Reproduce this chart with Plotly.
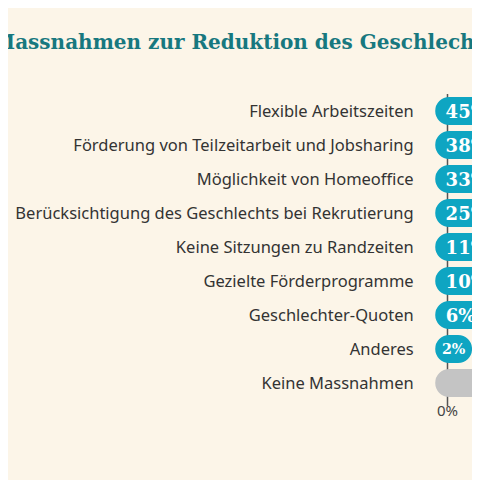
import plotly.graph_objects as go

categories = ["Flexible Arbeitszeiten", "Förderung von Teilzeitarbeit und Jobsharing",
              "Möglichkeit von Homeoffice", "Berücksichtigung des Geschlechts bei Rekrutierung",
              "Keine Sitzungen zu Randzeiten", "Gezielte Förderprogramme",
              "Geschlechter-Quoten", "Anderes", "Keine Massnahmen"]
values = [45, 38, 33, 25, 11, 10, 6, 2, 20]
labels = ["45%", "38%", "33%", "25%", "11%", "10%", "6%", "2%", ""]
colors = ["#0ea5c2"] * 8 + ["#c4c4c4"]

fig = go.Figure(go.Bar(
    y=categories, x=[v + 1.0 for v in values], base=-1.0, orientation="h",
    marker=dict(color=colors, cornerradius=14, line=dict(width=0)),
    text=labels, textposition="inside", insidetextanchor="start",
    textfont=dict(family="DejaVu Serif", size=18, color="white", weight="bold"),
    cliponaxis=True, hoverinfo="skip",
))
fig.add_shape(type="line", xref="x", yref="paper", x0=0, x1=0, y0=-0.02, y1=1.0,
              line=dict(color="#555", width=1.5), layer="below")
fig.add_annotation(text="Massnahmen zur Reduktion des Geschlechtergefälles", xref="paper", yref="paper",
                   x=0, y=1, xanchor="left", yanchor="bottom", xshift=-443, yshift=38,
                   showarrow=False, font=dict(family="DejaVu Serif", size=20, color="#17787f", weight="bold"))
fig.update_layout(
    width=480, height=480, margin=dict(l=426, r=0, t=86, b=88),
    paper_bgcolor="#fcf5e8", plot_bgcolor="#fcf5e8", showlegend=False, bargap=0.17,
    font=dict(family="Noto Sans", size=16, color="#333"),
    xaxis=dict(range=[-1.1, 3.3], tickvals=[0], ticktext=["0%"], showgrid=False, zeroline=False,
               showline=False, tickfont=dict(size=15, color="#444")),
    yaxis=dict(autorange="reversed", showgrid=False, ticks="outside", ticklen=16,
               tickcolor="rgba(0,0,0,0)", tickfont=dict(size=16.5, color="#333")),
)
fig.write_html("out.html")
